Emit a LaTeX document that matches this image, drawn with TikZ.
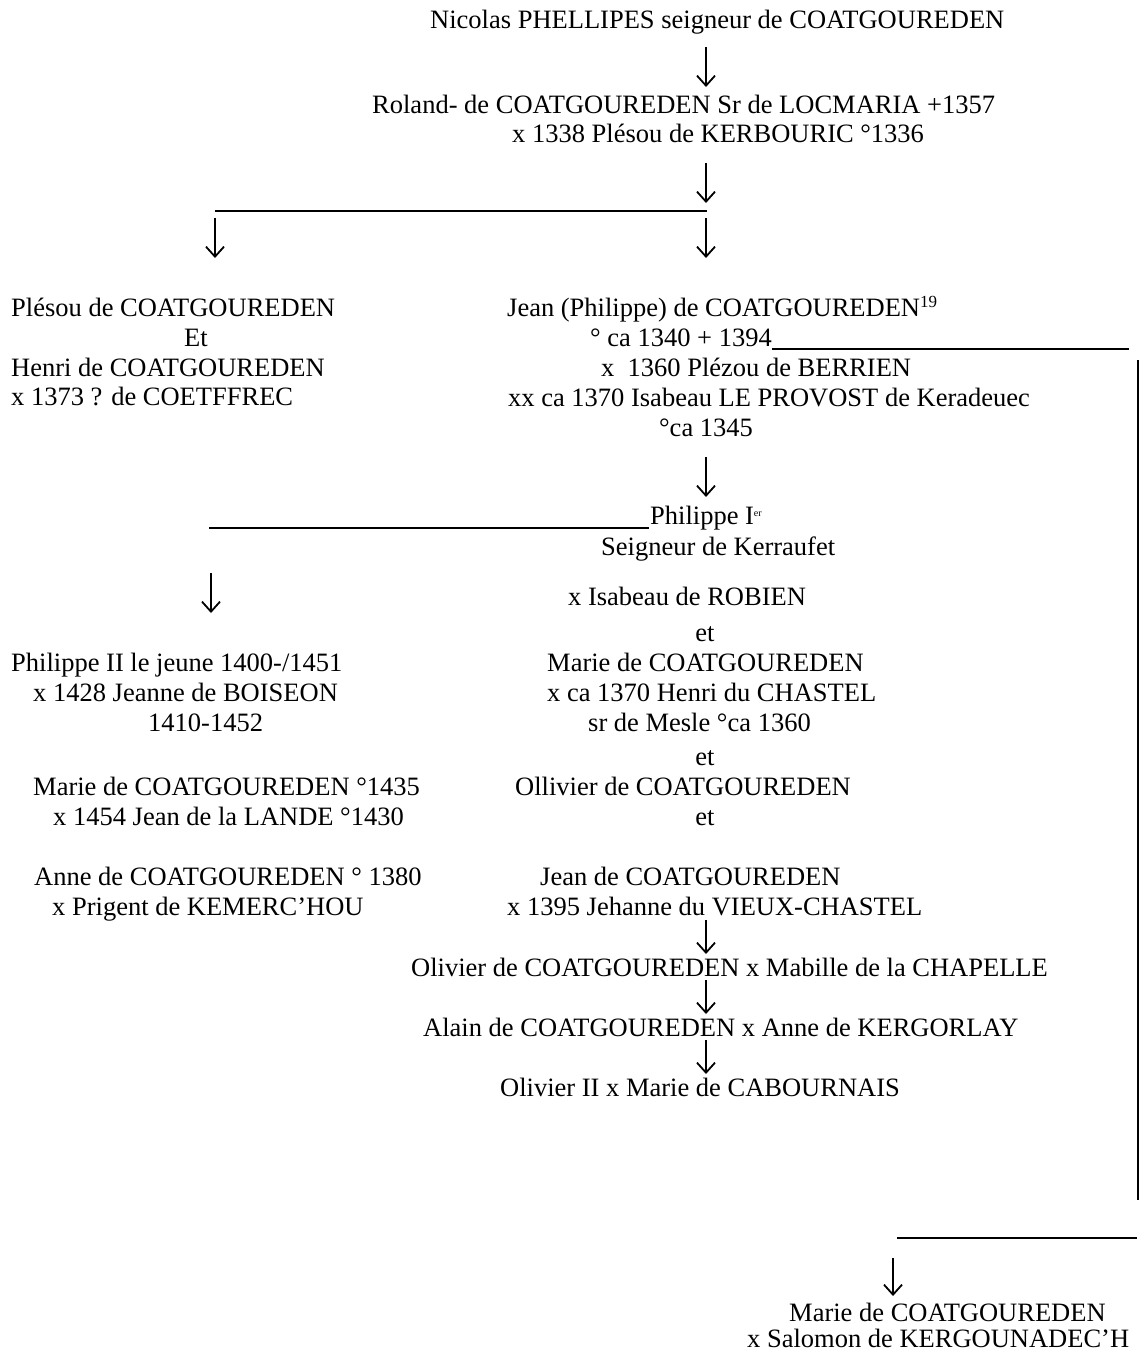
\documentclass[tikz,border=0pt]{standalone}
\usepackage{fontspec}
\setmainfont{Liberation Serif}
\usetikzlibrary{arrows.meta}
\begin{document}
\begin{tikzpicture}[x=1pt,y=-1pt,
  txt/.style={anchor=base west,inner sep=0pt,font=\fontsize{26.5}{29}\selectfont},
  ctxt/.style={anchor=base,inner sep=0pt,font=\fontsize{26.5}{29}\selectfont},
  arr/.style={line width=1.8pt,-{Straight Barb[length=10pt,width=18pt]}},
  rule/.style={line width=1.3pt},
  vrule/.style={line width=2pt}]
\useasboundingbox (0,0) rectangle (1141,1352);
% top generations
\node[txt] (nic) at (430,28) {Nicolas PHELLIPES seigneur de COATGOUREDEN};
\node[txt] (rol) at (372,113) {Roland- de COATGOUREDEN Sr de LOCMARIA +1357};
\node[txt] (rolx) at (512,142) {x 1338 Plésou de KERBOURIC °1336};
% left branch
\node[txt] (ple) at (11,316) {Plésou de COATGOUREDEN};
\node[ctxt] (et0) at (196,346) {Et};
\node[txt] (hen) at (11,376) {Henri de COATGOUREDEN};
\node[txt] (henx) at (11,405) {x 1373 ? de COETFFREC};
% Jean
\node[txt] (jea) at (507,316) {Jean (Philippe) de COATGOUREDEN\raisebox{9pt}{\fontsize{17}{17}\selectfont 19}};
\node[txt] (jd) at (590,346) {° ca 1340 + 1394};
\node[txt] (jx1) at (601,376) {x\ \ 1360 Plézou de BERRIEN};
\node[txt] (jx2) at (508,406) {xx ca 1370 Isabeau LE PROVOST de Keradeuec};
\node[ctxt] (jb) at (706,436) {°ca 1345};
% Philippe I
\node[txt] (ph) at (650,524) {Philippe I\raisebox{8pt}{\fontsize{10}{10}\selectfont er}};
\node[txt] (phs) at (601,555) {Seigneur de Kerraufet};
\node[txt] (phx) at (568,605) {x Isabeau de ROBIEN};
\node[ctxt] (et1) at (705,641) {et};
\node[txt] (mar) at (547,671) {Marie de COATGOUREDEN};
\node[txt] (marx) at (547,701) {x ca 1370 Henri du CHASTEL};
\node[txt] (mars) at (588,731) {sr de Mesle °ca 1360};
\node[ctxt] (et2) at (705,765) {et};
\node[txt] (oll) at (515,795) {Ollivier de COATGOUREDEN};
\node[ctxt] (et3) at (705,825) {et};
\node[txt] (jn) at (540,885) {Jean de COATGOUREDEN};
\node[txt] (jnx) at (507,915) {x 1395 Jehanne du VIEUX-CHASTEL};
\node[txt] (oli) at (411,976) {Olivier de COATGOUREDEN x Mabille de la CHAPELLE};
\node[txt] (ala) at (423,1036) {Alain de COATGOUREDEN x Anne de KERGORLAY};
\node[txt] (oli2) at (500,1096) {Olivier II x Marie de CABOURNAIS};
% bottom right
\node[txt] (mb) at (789,1321) {Marie de COATGOUREDEN};
\node[txt] (mbx) at (747,1347) {x Salomon de KERGOUNADEC’H};
% left column
\node[txt] (p2) at (11,671) {Philippe II le jeune 1400-/1451};
\node[txt] (p2x) at (33,701) {x 1428 Jeanne de BOISEON};
\node[txt] (p2d) at (148,731) {1410-1452};
\node[txt] (ml) at (33,795) {Marie de COATGOUREDEN °1435};
\node[txt] (mlx) at (53,825) {x 1454 Jean de la LANDE °1430};
\node[txt] (an) at (34,885) {Anne de COATGOUREDEN ° 1380};
\node[txt] (anx) at (52,915) {x Prigent de KEMERC’HOU};
% coordinates
\coordinate (a1s) at (706,47);  \coordinate (a1e) at (706,87);
\coordinate (a2s) at (706,163); \coordinate (a2e) at (706,203);
\coordinate (h1l) at (215,211); \coordinate (h1r) at (707,211);
\coordinate (a3s) at (215,218); \coordinate (a3e) at (215,258);
\coordinate (a4s) at (706,218); \coordinate (a4e) at (706,258);
\coordinate (jr) at (1129,349);
\coordinate (a5s) at (706,457); \coordinate (a5e) at (706,497);
\coordinate (h2l) at (209,528);
\coordinate (a6s) at (211,573); \coordinate (a6e) at (211,613);
\coordinate (a7s) at (706,920); \coordinate (a7e) at (706,954);
\coordinate (a8s) at (706,980); \coordinate (a8e) at (706,1014);
\coordinate (a9s) at (706,1040); \coordinate (a9e) at (706,1074);
\coordinate (v1) at (1138,360); \coordinate (v2) at (1138,1200);
\coordinate (h3l) at (897,1238); \coordinate (h3r) at (1137,1238);
\coordinate (a10s) at (893,1258); \coordinate (a10e) at (893,1296);
% connectors
\draw[arr] (a1s) -- (a1e);
\draw[arr] (a2s) -- (a2e);
\draw[rule] (h1l) -- (h1r);
\draw[arr] (a3s) -- (a3e);
\draw[arr] (a4s) -- (a4e);
\draw[rule] ([yshift=-3pt]jd.base east) -- (jr);
\draw[arr] (a5s) -- (a5e);
\draw[rule] (h2l) -- ([yshift=-4pt,xshift=-1pt]ph.base west);
\draw[arr] (a6s) -- (a6e);
\draw[arr] (a7s) -- (a7e);
\draw[arr] (a8s) -- (a8e);
\draw[arr] (a9s) -- (a9e);
\draw[vrule] (v1) -- (v2);
\draw[rule] (h3l) -- (h3r);
\draw[arr] (a10s) -- (a10e);
\end{tikzpicture}
\end{document}
